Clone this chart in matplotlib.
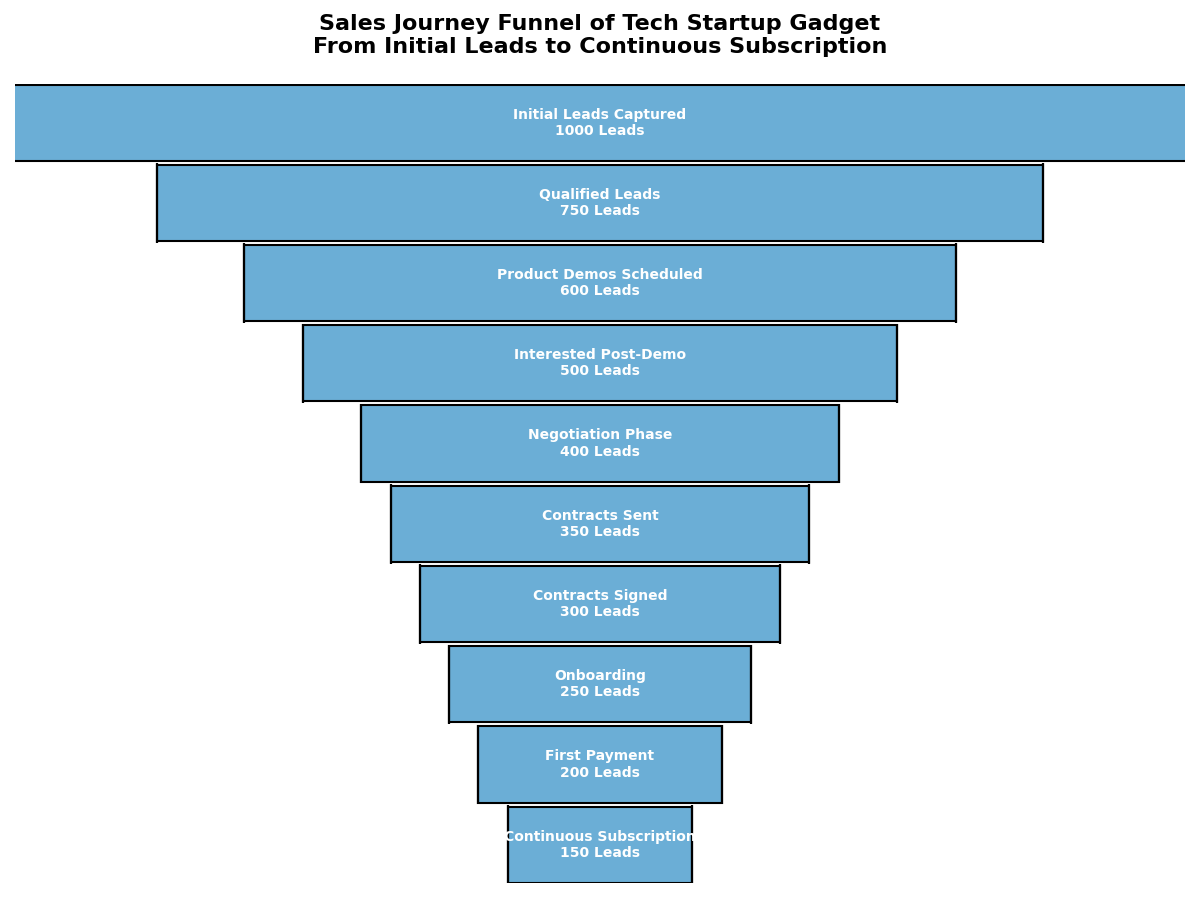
import matplotlib

matplotlib.use("Agg")
import matplotlib.pyplot as plt

# funnel stages, top to bottom
STAGES = [
    "Initial Leads Captured",
    "Qualified Leads",
    "Product Demos Scheduled",
    "Interested Post-Demo",
    "Negotiation Phase",
    "Contracts Sent",
    "Contracts Signed",
    "Onboarding",
    "First Payment",
    "Continuous Subscription",
]
LEADS = [1000, 750, 600, 500, 400, 350, 300, 250, 200, 150]

BAR_COLOR = "#6baed6"
BAR_H = 0.95
PAD = 4  # extra half-width each side, data units

fig = plt.figure(figsize=(12, 9), dpi=100)
ax = fig.add_axes([0.0125, 0.019, 0.975, 0.888])

ys = list(range(len(STAGES)))
widths = [v + 2 * PAD for v in LEADS]
lefts = [-w / 2 for w in widths]
ax.barh(ys, widths, left=lefts, height=BAR_H, color=BAR_COLOR,
        edgecolor="black", linewidth=1.5)
# side edges stick out a little past the bar, like the original
for y, w in zip(ys, widths):
    ax.vlines([-w / 2, w / 2], y - BAR_H / 2 - 0.02, y + BAR_H / 2 + 0.02,
              color="black", linewidth=1.6)

for y, name, v in zip(ys, STAGES, LEADS):
    ax.text(0, y, f"{name}\n{v} Leads", ha="center", va="center",
            color="white", fontsize=10, fontweight="bold")

ax.set_xlim(-max(LEADS) / 2, max(LEADS) / 2)
ax.set_ylim(len(STAGES) - 1 + BAR_H / 2, -BAR_H / 2 - 0.01)
ax.axis("off")
ax.set_title("Sales Journey Funnel of Tech Startup Gadget\nFrom Initial Leads to Continuous Subscription",
             fontsize=16, fontweight="bold", pad=22)

fig.savefig("out.png", dpi=100)
